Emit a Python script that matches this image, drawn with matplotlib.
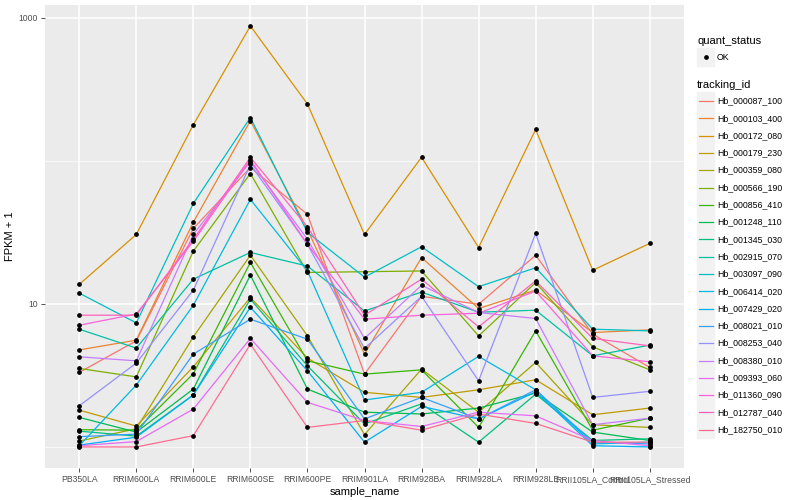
import matplotlib
matplotlib.use('Agg')
import matplotlib.pyplot as plt
from matplotlib.lines import Line2D
from matplotlib.patches import Rectangle
import numpy as np

plt.rcParams['font.family'] = ['Liberation Sans', 'DejaVu Sans']

# samples on the x axis
sample_names = ['PB350LA', 'RRIM600LA', 'RRIM600LE', 'RRIM600SE', 'RRIM600PE',
                'RRIM901LA', 'RRIM928BA', 'RRIM928LA', 'RRIM928LE',
                'RRII105LA_Control', 'RRII105LA_Stressed']

tracking_ids = ['Hb_000087_100', 'Hb_000103_400', 'Hb_000172_080', 'Hb_000179_230',
                'Hb_000359_080', 'Hb_000566_190', 'Hb_000856_410', 'Hb_001248_110',
                'Hb_001345_030', 'Hb_002915_070', 'Hb_003097_090', 'Hb_006414_020',
                'Hb_007429_020', 'Hb_008021_010', 'Hb_008253_040', 'Hb_008380_010',
                'Hb_009393_060', 'Hb_011360_090', 'Hb_012787_040', 'Hb_182750_010']

# FPKM + 1 per gene, one value per sample
hb_000087_100 = [3.32, 5.52, 33.7, 89.9, 42.3, 3.23, 11.3, 9.95, 21.9, 6.15, 3.60]
hb_000103_400 = [4.77, 5.58, 37.3, 191, 33.2, 4.46, 21.1, 9.29, 12.5, 6.31, 6.59]
hb_000172_080 = [13.7, 30.6, 179, 877, 250, 30.6, 106, 24.8, 166, 17.2, 26.5]
hb_000179_230 = [1.81, 1.40, 3.63, 11.1, 4.18, 2.41, 2.22, 2.51, 2.95, 1.68, 1.87]
hb_000359_080 = [1.10, 1.34, 5.88, 21.9, 5.98, 1.22, 3.50, 1.75, 3.90, 1.43, 1.37]
hb_000566_190 = [3.54, 3.09, 23.4, 81.6, 16.6, 16.8, 17.0, 5.98, 14.1, 5.01, 3.46]
hb_000856_410 = [1.32, 1.31, 3.25, 19.5, 4.00, 3.23, 3.46, 1.37, 6.48, 1.31, 1.59]
hb_001248_110 = [1.61, 1.27, 2.54, 15.9, 2.54, 1.75, 1.70, 1.87, 2.38, 1.27, 1.11]
hb_001345_030 = [1.29, 1.19, 2.31, 10.8, 3.69, 1.45, 2.00, 1.08, 2.34, 1.11, 1.14]
hb_002915_070 = [6.66, 4.91, 14.9, 22.9, 18.4, 8.93, 12.1, 8.75, 9.04, 4.34, 5.15]
hb_003097_090 = [11.9, 7.37, 50.4, 201, 31.6, 15.4, 25.1, 13.2, 17.9, 6.66, 6.48]
hb_006414_020 = [1.02, 2.71, 9.79, 53.8, 17.0, 2.13, 2.41, 4.30, 2.51, 1.05, 1.08]
hb_007429_020 = [1.03, 1.17, 2.31, 9.48, 3.41, 1.08, 1.92, 1.57, 2.43, 1.02, 1.00]
hb_008021_010 = [1.18, 1.23, 4.46, 7.82, 5.67, 1.57, 2.22, 1.57, 2.51, 1.08, 1.05]
hb_008253_040 = [1.94, 3.86, 12.5, 94.4, 26.1, 4.88, 11.3, 2.90, 31.1, 2.22, 2.45]
hb_008380_010 = [4.27, 4.00, 30.6, 99.0, 28.3, 5.74, 13.5, 8.71, 7.91, 1.43, 1.59]
hb_009393_060 = [1.02, 1.09, 1.84, 5.74, 2.05, 1.53, 1.39, 1.75, 1.65, 1.11, 1.02]
hb_011360_090 = [7.10, 8.50, 27.4, 102, 26.1, 7.82, 8.34, 8.61, 12.3, 4.34, 3.94]
hb_012787_040 = [8.34, 8.34, 28.3, 106, 34.5, 8.34, 14.9, 6.91, 14.5, 5.74, 5.09]
hb_182750_010 = [1.00, 1.00, 1.20, 5.23, 1.37, 1.53, 1.31, 1.70, 1.46, 1.08, 1.08]

all_series = [hb_000087_100, hb_000103_400, hb_000172_080, hb_000179_230,
              hb_000359_080, hb_000566_190, hb_000856_410, hb_001248_110,
              hb_001345_030, hb_002915_070, hb_003097_090, hb_006414_020,
              hb_007429_020, hb_008021_010, hb_008253_040, hb_008380_010,
              hb_009393_060, hb_011360_090, hb_012787_040, hb_182750_010]

# ggplot2 default hue palette for 20 levels
colors = ['#F8766D', '#EA8331', '#D89000', '#C09B00', '#A3A500', '#7CAE00',
          '#39B600', '#00BB4E', '#00BF7D', '#00C1A3', '#00BFC4', '#00BAE0',
          '#00B0F6', '#35A2FF', '#9590FF', '#C77CFF', '#E76BF3', '#FA62DB',
          '#FF62BC', '#FF6C91']

W, H = 800, 500
fig = plt.figure(figsize=(8, 5), dpi=100)
ax = fig.add_axes([45 / W, 1 - 468 / H, (684 - 45) / W, (468 - 5) / H])
ax.set_facecolor('#EBEBEB')

x = np.arange(len(sample_names))
for vals, c in zip(all_series, colors):
    ax.plot(x, vals, color=c, lw=0.9, zorder=3)
for vals in all_series:
    ax.plot(x, vals, 'o', color='black', ms=2.4, zorder=4)

ax.set_yscale('log')
lo = np.log10(min(min(s) for s in all_series))
hi = np.log10(max(max(s) for s in all_series))
pad = (hi - lo) * 0.05
ax.set_ylim(10 ** (lo - pad), 10 ** (hi + pad))
ax.set_xlim(-0.6, len(sample_names) - 0.4)

ax.set_yticks([10, 1000])
ax.set_yticklabels(['10', '1000'])
ax.set_yticks([1, 100], minor=True)
ax.yaxis.set_minor_formatter(plt.NullFormatter())
ax.set_xticks(x)
ax.set_xticklabels(sample_names)

ax.grid(True, which='major', color='white', lw=1.1, zorder=0)
ax.grid(True, which='minor', axis='y', color='white', lw=0.5, zorder=0)
ax.set_axisbelow(True)
for s in ax.spines.values():
    s.set_visible(False)
ax.tick_params(which='major', length=3, width=0.6, color='#333333',
               labelsize=6.2, labelcolor='#4D4D4D', pad=2)
ax.tick_params(which='minor', length=0)

ax.set_xlabel('sample_name', fontsize=8, labelpad=2)
ax.set_ylabel('FPKM + 1', fontsize=8, labelpad=3)

# legends, drawn by hand in figure pixels
def fx(px):
    return px / W

def fy(py):
    return 1 - py / H

fig.text(fx(697), fy(41), 'quant_status', fontsize=8, va='center', ha='left')
fig.patches.append(Rectangle((fx(697), fy(65.5)), fx(17), 17 / H,
                             transform=fig.transFigure, color='#F2F2F2'))
fig.lines.append(Line2D([fx(705.5)], [fy(57)], marker='o', ms=2.4, color='black',
                        transform=fig.transFigure))
fig.text(fx(717), fy(57), 'OK', fontsize=6.3, va='center', ha='left')

fig.text(fx(697), fy(85), 'tracking_id', fontsize=8, va='center', ha='left')
for i, (tid, c) in enumerate(zip(tracking_ids, colors)):
    yc = 101 + i * 17.3
    fig.patches.append(Rectangle((fx(697), fy(yc + 8.5)), fx(17), 17 / H,
                                 transform=fig.transFigure, color='#F2F2F2'))
    fig.lines.append(Line2D([fx(698.5), fx(712.5)], [fy(yc), fy(yc)], color=c,
                            lw=0.9, transform=fig.transFigure))
    fig.text(fx(717), fy(yc), tid, fontsize=6.3, va='center', ha='left')

fig.savefig('out.png', dpi=100)
